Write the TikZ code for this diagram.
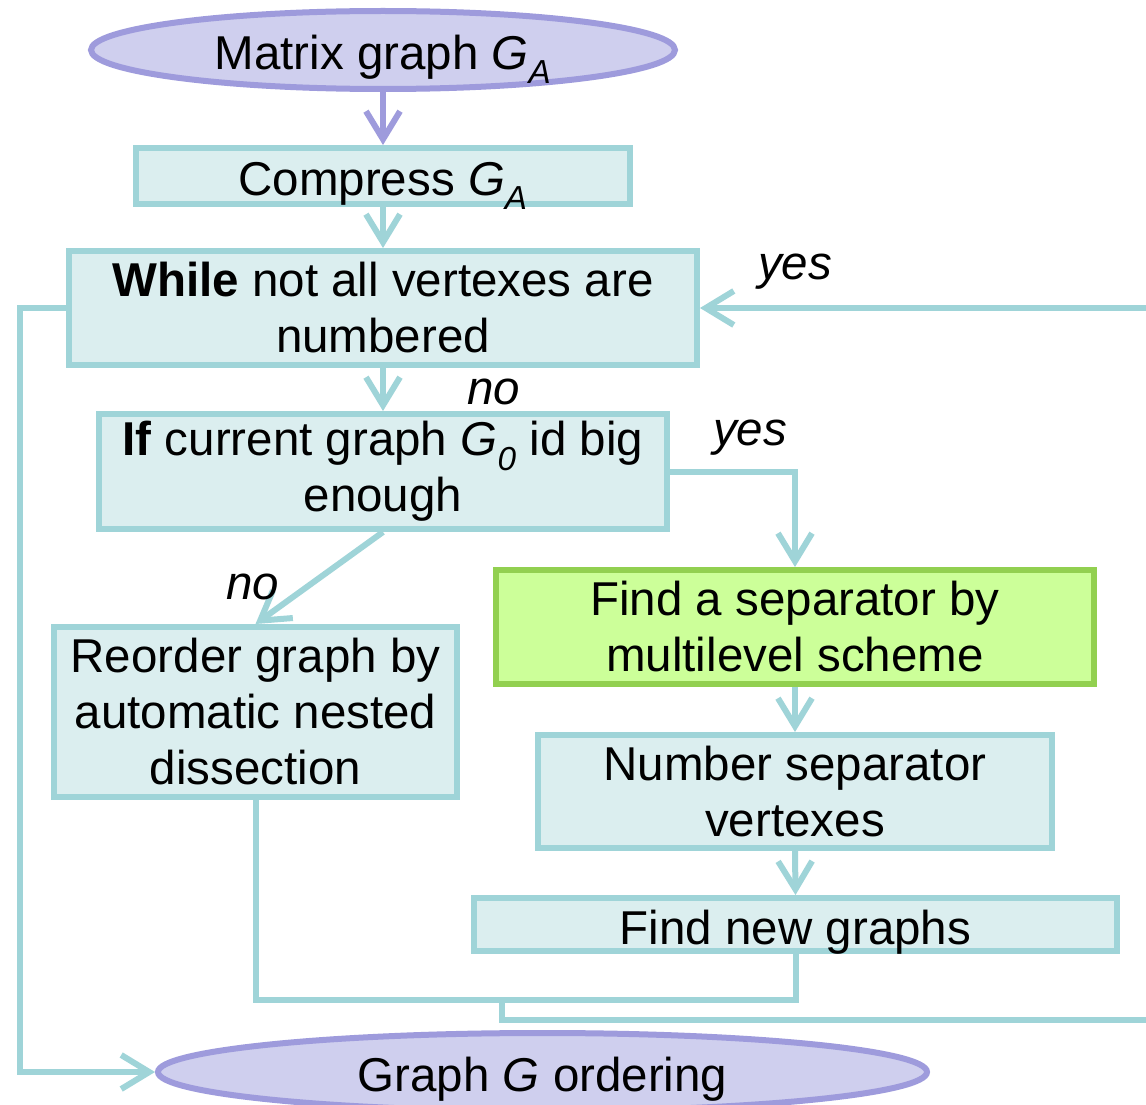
\documentclass[tikz,border=0pt]{standalone}
\usepackage{fontspec}
\setmainfont{Liberation Sans}
\usetikzlibrary{arrows.meta,shapes.geometric}
\definecolor{tealline}{HTML}{9FD4D8}
\definecolor{tealfill}{HTML}{DBEEEF}
\definecolor{lavline}{HTML}{9E9BDC}
\definecolor{lavfill}{HTML}{CFCFEE}
\definecolor{grnline}{HTML}{92D050}
\definecolor{grnfill}{HTML}{CCFF99}
\tikzset{
  txt/.style={font=\fontsize{47.5}{56}\selectfont, align=center, text=black},
  boxnode/.style={txt, rectangle, draw=tealline, fill=tealfill, line width=6pt, inner sep=0pt},
  greennode/.style={boxnode, draw=grnline, fill=grnfill},
  ovalnode/.style={txt, ellipse, draw=lavline, fill=lavfill, line width=6pt, inner sep=0pt},
  oneline/.style={text height=44pt, text depth=5pt},
  flow/.style={draw=tealline, line width=6pt, -{Straight Barb[length=28pt,width=34pt]}},
  lavflow/.style={flow, draw=lavline},
  plain/.style={draw=tealline, line width=6pt},
  lbl/.style={font=\fontsize{47.5}{56}\selectfont\itshape, inner sep=0pt}
}
\newcommand{\GA}{\textit{G}\textsubscript{\textit{A}}}
\begin{document}
\begin{tikzpicture}[x=1pt,y=-1pt]
\useasboundingbox (0,0) rectangle (1146,1105);
\clip (0,0) rectangle (1146,1105);
\fill[white] (0,0) rectangle (1146,1105);

\node[ovalnode, oneline, minimum width=584pt, minimum height=78pt] (top) at (383,50) {Matrix graph \GA};
\node[boxnode, oneline, minimum width=494pt, minimum height=56pt] (comp) at (383,176) {Compress \GA};
\node[boxnode, minimum width=628pt, minimum height=114pt] (while) at (383,308) {\textbf{While} not all vertexes are\\numbered};
\node[boxnode, minimum width=568pt, minimum height=115pt] (if) at (383,471.5) {\textbf{If} current graph \textit{G}\textsubscript{\textit{0}} id big\\enough};
\node[greennode, minimum width=598pt, minimum height=114pt] (sep) at (795,627) {Find a separator by\\multilevel scheme};
\node[boxnode, minimum width=514pt, minimum height=113pt] (num) at (795,791.5) {Number separator\\vertexes};
\node[boxnode, oneline, minimum width=643pt, minimum height=53pt] (newg) at (795.5,924.5) {Find new graphs};
\node[boxnode, minimum width=403pt, minimum height=170pt] (reord) at (255.5,712) {Reorder graph by\\automatic nested\\dissection};
\node[ovalnode, oneline, minimum width=769pt, minimum height=78pt] (bottom) at (542.5,1072) {Graph \textit{G} ordering};

\draw[lavflow] (top.south) -- (comp.north);
\draw[flow] (comp.south) -- (while.north);
\draw[flow] (while.south) -- (if.north);
\draw[flow] (if.east) -| (sep.north);
\draw[flow] (if.south) -- (reord.north);
\draw[flow] (sep.south) -- (num.north);
\draw[flow] (num.south) -- (newg.north);
\draw[flow] (while.west) -- ++(-46,0) |- (bottom.west);
\coordinate (j) at (502,1000);
\draw[plain] (reord.south) |- (j) -| (newg.south);
\draw[flow] (j) |- (1175,1020) |- (while.east);

\node[lbl] (l1) at (795,272) {yes};
\node[lbl] (l2) at (494,392) {no};
\node[lbl] (l3) at (750,438) {yes};
\node[lbl] (l4) at (253,587) {no};
\end{tikzpicture}
\end{document}
